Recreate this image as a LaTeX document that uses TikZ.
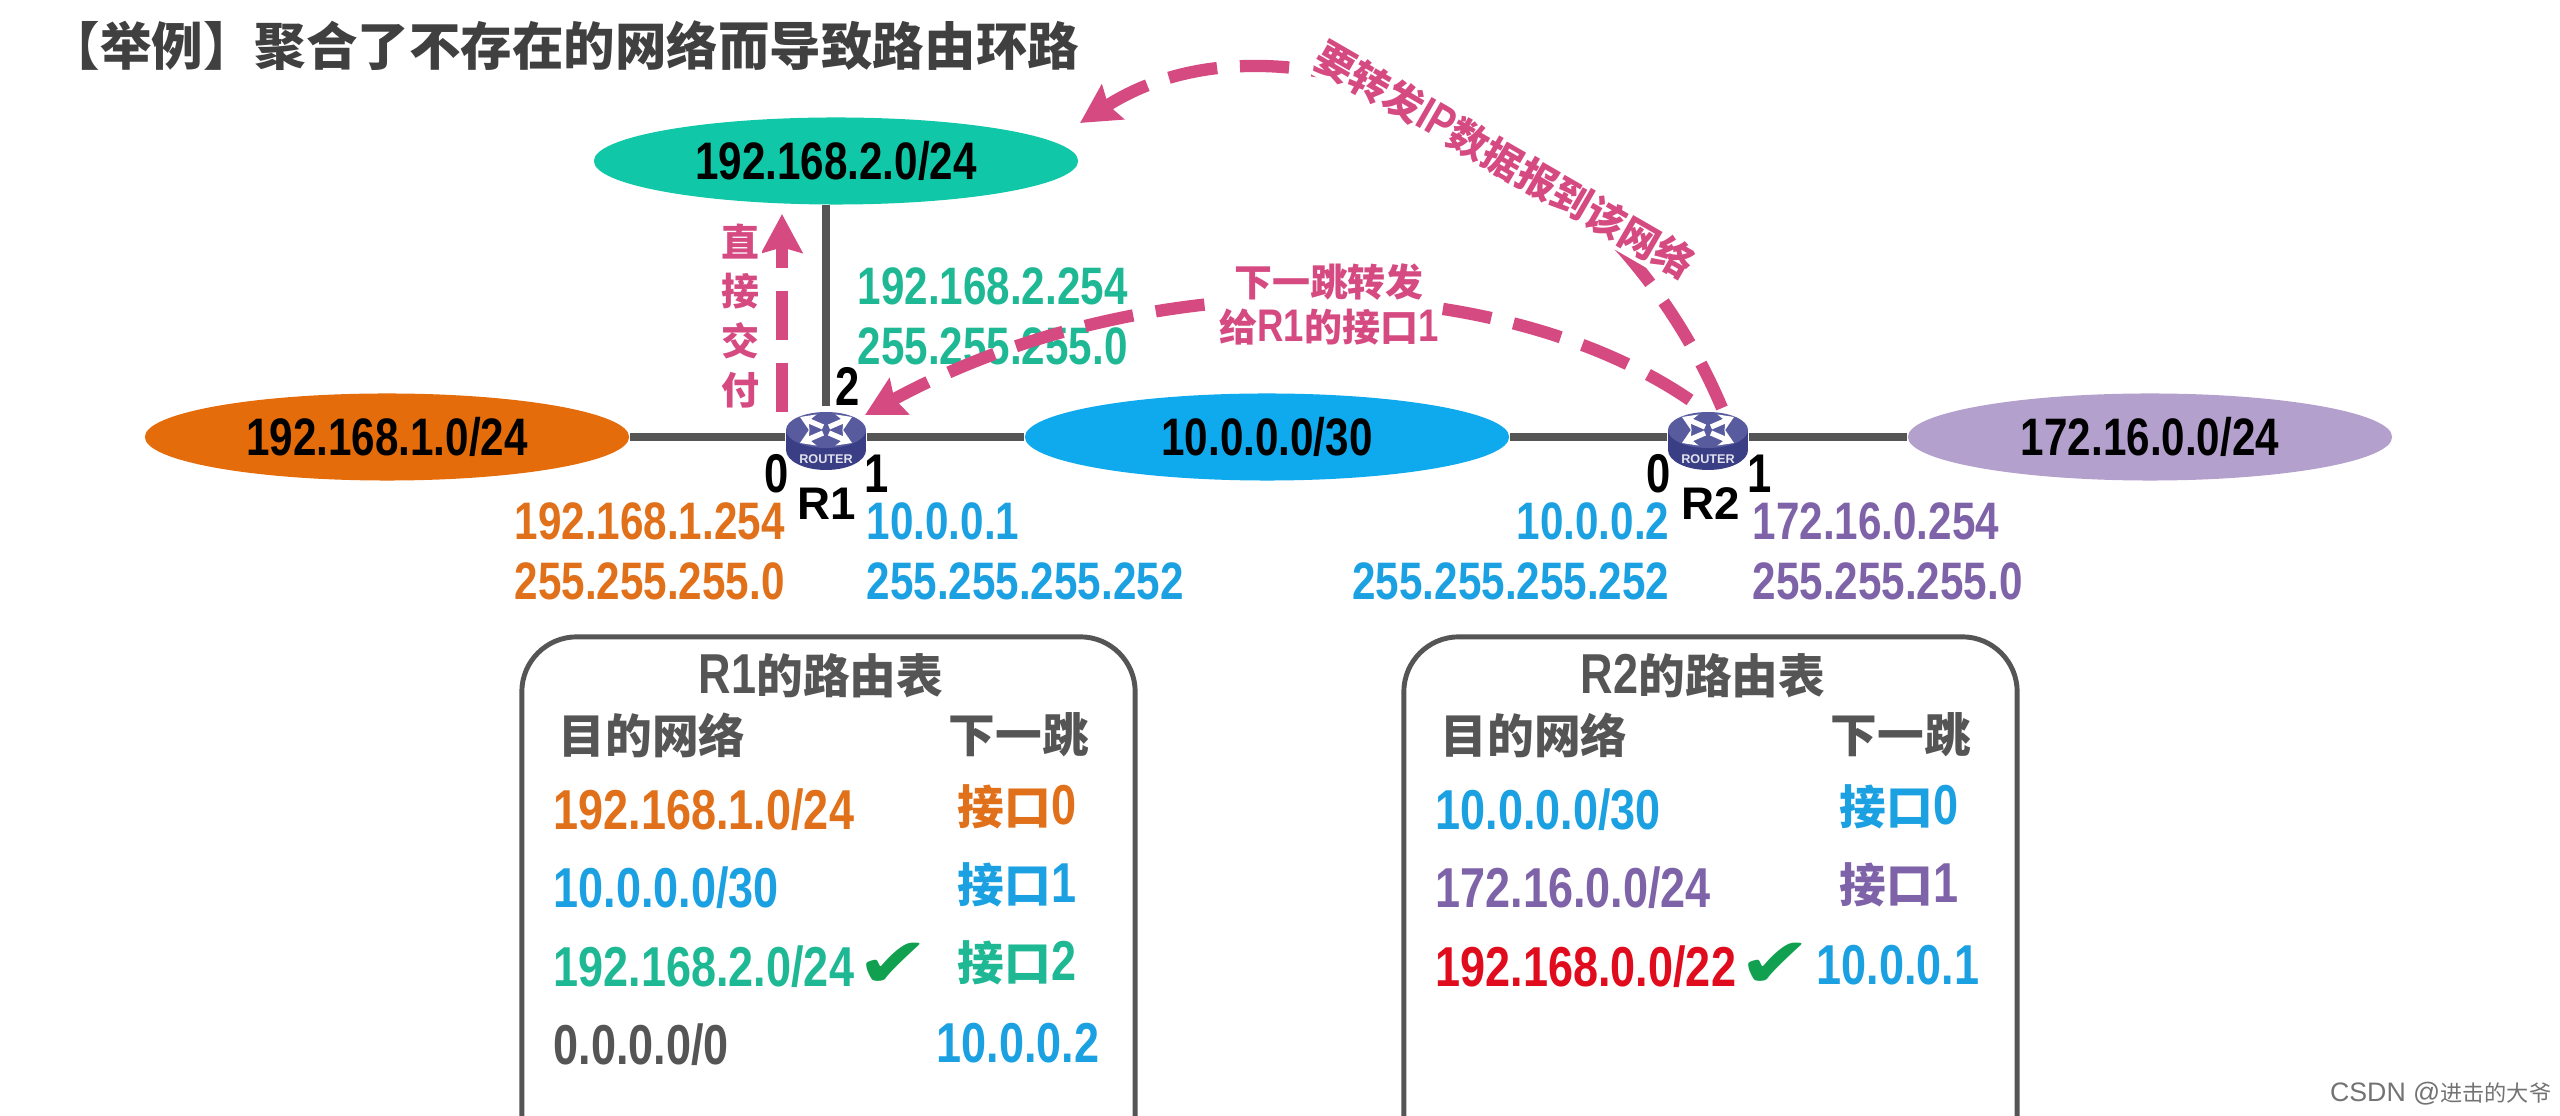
\documentclass[tikz,border=0pt]{standalone}
\usepackage{fontspec}
\usepackage{tikz}
\usetikzlibrary{positioning,arrows.meta,shapes.geometric}
\setmainfont[FakeStretch=0.8]{Liberation Sans}
\newfontfamily\plainfont{Liberation Sans}
\newfontfamily\cjkfont[Scale=0.83]{Noto Sans CJK SC}
\newfontfamily\markfont{DejaVu Sans}
\newcommand{\zh}[1]{{\cjkfont #1}}
\definecolor{lanorange}{RGB}{228,108,10}
\definecolor{lanblue}{RGB}{15,169,238}
\definecolor{langreen}{RGB}{16,200,168}
\definecolor{lanpurple}{RGB}{180,160,204}
\definecolor{txtorange}{RGB}{224,112,26}
\definecolor{txtblue}{RGB}{27,161,226}
\definecolor{txtgreen}{RGB}{31,184,148}
\definecolor{txtpurple}{RGB}{126,99,168}
\definecolor{txtgray}{RGB}{85,85,85}
\definecolor{txtred}{RGB}{224,11,28}
\definecolor{okgreen}{RGB}{17,160,80}
\definecolor{pinkline}{RGB}{214,74,130}
\definecolor{routertop}{RGB}{88,92,158}
\definecolor{routerdark}{RGB}{58,62,132}

% router icon over an empty node
\newcommand{\routericon}[1]{%
  \begin{scope}[shift={(#1)}]
    \fill[routerdark] (0,13) ellipse [x radius=40, y radius=20];
    \fill[routerdark] (-40,-7) rectangle (40,13);
    \fill[routertop] (0,-7) ellipse [x radius=40, y radius=18];
    \foreach \sx/\sy in {-1/-1,1/-1,-1/1,1/1}
      \draw[white, line width=1.5pt, -{Stealth[length=4pt,width=5pt]}]
        (3*\sx,-7+3*\sy) -- (26*\sx,-7+13*\sy);
    \node[font=\plainfont\bfseries\fontsize{3.6}{4}\selectfont, text=white!85!routerdark, inner sep=0pt]
      (#1tag) at (0,22) {ROUTER};
  \end{scope}}

\begin{document}
\begin{tikzpicture}[
  x=0.01cm, y=-0.01cm,
  lan/.style={ellipse, fill=#1, inner sep=0pt, minimum width=4.84cm, minimum height=0.87cm,
              font=\bfseries\fontsize{15}{17}\selectfont},
  router/.style={ellipse, inner sep=0pt, minimum width=0.8cm, minimum height=0.6cm},
  link/.style={draw=txtgray, line width=2pt},
  portno/.style={font=\bfseries\fontsize{15.5}{17}\selectfont, inner sep=0pt},
  rname/.style={font=\plainfont\bfseries\fontsize{13}{14}\selectfont, inner sep=0pt},
  addr/.style={text=#1, font=\bfseries\fontsize{15}{17}\selectfont, inner sep=0pt},
  hop/.style={-{Stealth[length=11pt,width=11.5pt,inset=1.5pt]}, draw=pinkline, line width=3.5pt,
              dash pattern=on 14pt off 6.5pt},
  note/.style={text=pinkline, fill=white, inner sep=1pt, align=center,
               font=\bfseries\fontsize{13}{12.8}\selectfont},
  rtable/.style={draw=txtgray, line width=1.4pt, rounded corners=0.55cm, inner sep=0pt,
                 minimum width=6.13cm, minimum height=5.63cm},
  head/.style={text=txtgray, inner sep=0pt, font=\bfseries\fontsize{16}{18}\selectfont},
  cell/.style={text=#1, anchor=west, inner sep=0pt, font=\bfseries\fontsize{16}{18}\selectfont},
  tick/.style={text=okgreen, inner sep=0pt, xscale=1.25, font=\markfont\fontsize{20}{22}\selectfont},
]
\path[use as bounding box, clip] (0,0) rectangle (2560,1116);

\node[anchor=west, inner sep=0pt, text=black!75, font=\bfseries\fontsize{17.65}{20}\selectfont] (title) at (48,46)
    {\zh{【举例】聚合了不存在的网络而导致路由环路}};

% networks and routers
\node[lan=langreen]  (net2) at ( 836,161) {192.168.2.0/24};
\node[lan=lanorange] (net1) at ( 387,437) {192.168.1.0/24};
\node[lan=lanblue]   (net0) at (1267,437) {10.0.0.0/30};
\node[lan=lanpurple] (net3) at (2150,437) {172.16.0.0/24};
\node[router] (r1) at ( 826,437) {};
\node[router] (r2) at (1708,437) {};

\draw[link] (net1) -- (r1);
\draw[link] (r1) -- (net0);
\draw[link] (net0) -- (r2);
\draw[link] (r2) -- (net3);
\draw[link] (r1.north) -- (r1.north |- net2.south);

\routericon{r1}
\routericon{r2}

\node[portno] (p12) at ( 848,386) {2};
\node[portno] (p10) at ( 777,474) {0};
\node[portno] (p11) at ( 877,474) {1};
\node[portno] (p20) at (1659,474) {0};
\node[portno] (p21) at (1760,474) {1};
\node[rname]  (n1)  at ( 827,504) {R1};
\node[rname]  (n2)  at (1711,504) {R2};

% interface addresses
\node[addr=txtgreen,  anchor=west, align=left]  (a12) at ( 857,316) {192.168.2.254\\255.255.255.0};
\node[addr=txtorange, anchor=west, align=left]  (a10) at ( 514,551) {192.168.1.254\\255.255.255.0};
\node[addr=txtblue,   anchor=west, align=left]  (a11) at ( 866,551) {10.0.0.1\\255.255.255.252};
\node[addr=txtblue,   anchor=east, align=right] (a20) at (1670,551) {10.0.0.2\\255.255.255.252};
\node[addr=txtpurple, anchor=west, align=left]  (a21) at (1752,551) {172.16.0.254\\255.255.255.0};

% forwarding arrows
\coordinate (t1) at (782,412);
\coordinate (t2) at (782,214);
\coordinate (t3) at (1722,408);
\coordinate (t4) at (1080,123);
\coordinate (t5) at (1690,400);
\coordinate (t6) at (865,415);
\draw[hop] (t1) -- (t2);
\draw[hop] (t3) .. controls (1600,120) and (1280,-5) .. (t4);
\draw[hop] (t5) .. controls (1500,270) and (1150,260) .. (t6);

\node[note] (deliver) at (740,316) {\zh{直}\\[1.3pt]\zh{接}\\[1.3pt]\zh{交}\\[1.3pt]\zh{付}};
\node[note, rotate=-30, font=\bfseries\fontsize{13.5}{13}\selectfont] (goal) at (1505,160) {\zh{要转发}IP\zh{数据报到该网络}};
\node[note] (nexthop) at (1329,304) {\zh{下一跳转发}\\\zh{给}R1\zh{的接口}1};

% routing tables
\node[rtable] (tab1) at (828.5,918.5) {};
\node[rtable] (tab2) at (1710.5,918.5) {};

\node[head] (h1)  at ( 821,676) {R1\zh{的路由表}};
\node[head] (h1a) at ( 652,735) {\zh{目的网络}};
\node[head] (h1b) at (1019,735) {\zh{下一跳}};
\node[cell=txtorange] (c11) at (553, 810) {192.168.1.0/24};
\node[cell=txtblue]   (c12) at (553, 888) {10.0.0.0/30};
\node[cell=txtgreen]  (c13) at (553, 967) {192.168.2.0/24};
\node[cell=txtgray]   (c14) at (553,1045) {0.0.0.0/0};
\node[tick] (k1) at (893,965) {✔};
\node[cell=txtorange] (d11) at (957, 807) {\zh{接口}0};
\node[cell=txtblue]   (d12) at (957, 885) {\zh{接口}1};
\node[cell=txtgreen]  (d13) at (957, 963) {\zh{接口}2};
\node[cell=txtblue]   (d14) at (936,1043) {10.0.0.2};

\node[head] (h2)  at (1703,676) {R2\zh{的路由表}};
\node[head] (h2a) at (1534,735) {\zh{目的网络}};
\node[head] (h2b) at (1901,735) {\zh{下一跳}};
\node[cell=txtblue]   (c21) at (1435,810) {10.0.0.0/30};
\node[cell=txtpurple] (c22) at (1435,888) {172.16.0.0/24};
\node[cell=txtred]    (c23) at (1435,967) {192.168.0.0/22};
\node[tick] (k2) at (1775,965) {✔};
\node[cell=txtblue]   (d21) at (1839,807) {\zh{接口}0};
\node[cell=txtpurple] (d22) at (1839,885) {\zh{接口}1};
\node[cell=txtblue]   (d23) at (1816,965) {10.0.0.1};

\node[anchor=east, inner sep=0pt, text=black!55, font=\plainfont\fontsize{7.6}{9}\selectfont] (mark) at (2552,1094)
    {CSDN @\zh{进击的大爷}};
\end{tikzpicture}
\end{document}
